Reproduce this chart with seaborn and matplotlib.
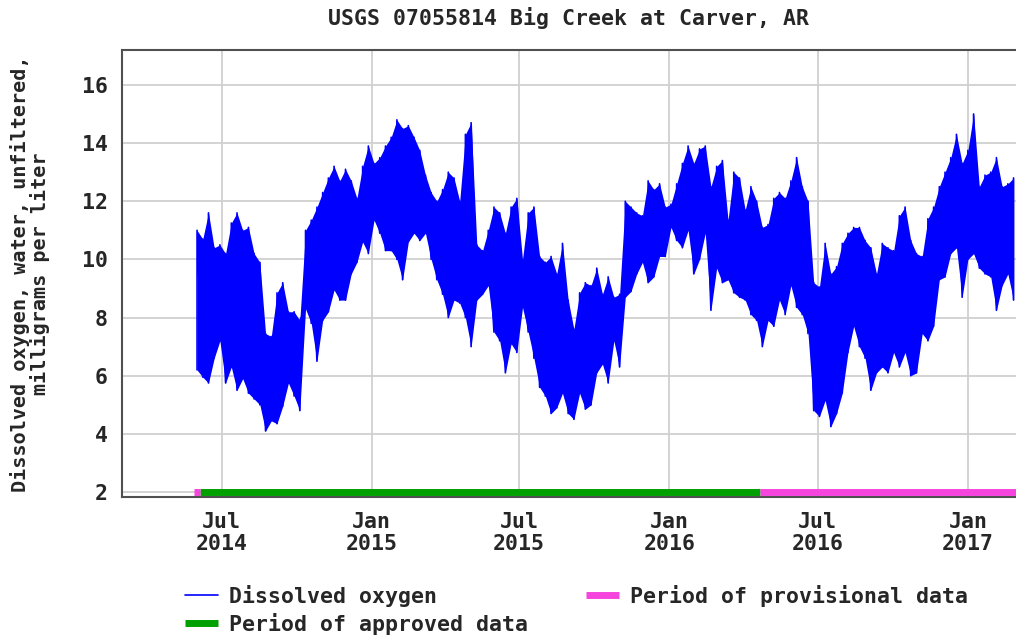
import numpy as np
import pandas as pd
import matplotlib
matplotlib.use("Agg")
import matplotlib.pyplot as plt
import seaborn as sns
from matplotlib.lines import Line2D

# ---------------- data ----------------
title = "USGS 07055814 Big Creek at Carver, AR"
ylabel = "Dissolved oxygen, water, unfiltered,\nmilligrams per liter"
start_date = "2014-06-01"  # weekly samples of the daily envelope

do_upper = [11.0, 10.7, 11.6, 10.4, 10.5, 10.2, 11.25, 11.6, 11.0, 11.1,
            10.2, 9.9, 7.45, 7.35, 8.85, 9.2, 8.2, 8.2, 7.9, 11.0,
            11.35, 11.8, 12.3, 12.8, 13.2, 12.7, 13.1, 12.7, 12.1, 13.2,
            13.9, 13.3, 13.5, 13.9, 14.2, 14.8, 14.5, 14.6, 14.2, 13.75,
            12.9, 12.3, 12.0, 12.4, 13.0, 12.8, 12.0, 14.3, 14.7, 10.5,
            10.3, 11.0, 11.8, 11.6, 10.9, 11.8, 12.1, 10.0, 11.6, 11.8,
            10.1, 9.9, 10.1, 9.5, 10.55, 8.6, 7.6, 8.85, 9.2, 9.1,
            9.7, 8.8, 9.4, 8.7, 8.8, 12.0, 11.8, 11.6, 11.5, 12.7,
            12.4, 12.6, 11.8, 11.9, 12.6, 13.3, 13.9, 13.3, 13.8, 13.9,
            12.5, 13.2, 13.4, 11.35, 13.0, 12.8, 11.7, 12.5, 12.0, 11.1,
            11.2, 12.1, 12.3, 12.1, 12.7, 13.5, 12.5, 12.0, 9.2, 9.05,
            10.55, 9.5, 9.75, 10.55, 10.9, 11.1, 11.1, 10.65, 10.4, 9.5,
            10.55, 10.4, 10.3, 11.5, 11.8, 10.65, 10.2, 10.1, 11.4, 11.8,
            12.5, 13.0, 13.5, 14.3, 13.3, 13.75, 15.0, 12.5, 12.9, 13.0,
            13.5, 12.5, 12.6, 12.8]

do_lower = [6.2, 5.95, 5.75, 6.6, 7.2, 5.75, 6.3, 5.5, 5.9, 5.4,
            5.2, 5.0, 4.1, 4.45, 4.35, 4.95, 5.75, 5.3, 4.8, 8.3,
            7.8, 6.5, 7.9, 8.2, 8.95, 8.6, 8.6, 9.5, 9.9, 10.6,
            10.2, 11.35, 10.9, 10.3, 10.3, 10.0, 9.3, 10.6, 10.9, 10.65,
            10.9, 10.0, 9.3, 8.8, 8.0, 8.6, 8.5, 8.0, 7.0, 8.6,
            8.8, 9.1, 7.5, 7.2, 6.1, 7.1, 6.8, 8.35, 7.5, 6.6,
            5.6, 5.3, 4.7, 4.9, 5.4, 4.7, 4.5, 5.4, 4.85, 5.0,
            6.1, 6.4, 5.75, 7.2, 6.3, 8.7, 8.9, 9.5, 9.9, 9.2,
            9.4, 10.1, 10.1, 11.1, 10.65, 10.4, 11.0, 9.5, 10.0, 10.9,
            8.25, 9.7, 9.2, 9.3, 8.85, 8.7, 8.6, 8.1, 7.9, 7.0,
            7.9, 7.7, 8.6, 8.1, 9.1, 8.35, 8.1, 7.45, 4.8, 4.6,
            5.15, 4.25, 4.7, 5.4, 6.8, 7.7, 7.0, 6.6, 5.5, 6.1,
            6.3, 6.1, 6.8, 6.3, 6.8, 6.0, 6.1, 7.45, 7.2, 7.7,
            9.3, 9.4, 10.2, 10.4, 8.7, 10.0, 10.2, 9.7, 9.5, 9.4,
            8.25, 9.1, 9.5, 8.6]

approved_periods = [("2014-06-05", "2016-04-21")]
provisional_periods = [("2014-05-28", "2014-06-05"), ("2016-04-21", "2017-03-10")]

xtick_dates = ["2014-07-01", "2015-01-01", "2015-07-01", "2016-01-01",
               "2016-07-01", "2017-01-01"]
xtick_labels = ["Jul\n2014", "Jan\n2015", "Jul\n2015", "Jan\n2016",
                "Jul\n2016", "Jan\n2017"]
yticks = [2, 4, 6, 8, 10, 12, 14, 16]
legend_labels = ["Dissolved oxygen", "Period of approved data",
                 "Period of provisional data"]

BLUE = "#0000ff"
GREEN = "#00a000"
PINK = "#f545dc"

# ---------------- figure ----------------
sns.set_style("white")
plt.rcParams["font.family"] = ["DejaVu Sans Mono", "DejaVu Sans"]
plt.rcParams["font.weight"] = "bold"
FS = 15.5

fig = plt.figure(figsize=(10.16, 6.35), dpi=100)
ax = fig.add_axes([122 / 1016, 1 - 497 / 635, 894 / 1016, 447 / 635])

dates = pd.date_range(start_date, periods=len(do_upper), freq="7D")
ax.fill_between(dates, do_lower, do_upper, color=BLUE, lw=0, zorder=2)
zig = pd.DataFrame({
    "date": np.repeat(dates, 2),
    "do": np.column_stack([do_lower, do_upper]).ravel(),
})
sns.lineplot(data=zig, x="date", y="do", sort=False, estimator=None,
             color=BLUE, lw=1.2, ax=ax, legend=False, zorder=3)

for a, b in approved_periods:
    ax.plot([pd.Timestamp(a), pd.Timestamp(b)], [2, 2], color=GREEN, lw=5,
            solid_capstyle="butt", zorder=4)
for a, b in provisional_periods:
    ax.plot([pd.Timestamp(a), pd.Timestamp(b)], [2, 2], color=PINK, lw=5,
            solid_capstyle="butt", zorder=4)

ax.set_xlim(pd.Timestamp("2014-03-01"), pd.Timestamp("2017-03-01"))
ax.set_ylim(1.83, 17.2)
ax.set_xticks(pd.to_datetime(xtick_dates))
ax.set_xticklabels(xtick_labels, fontsize=FS, linespacing=1.12,
                   fontweight="bold")
ax.set_yticks(yticks)
ax.set_yticklabels([str(v) for v in yticks], fontsize=FS, fontweight="bold")
ax.tick_params(axis="x", length=0, pad=11)
ax.tick_params(axis="y", length=0, pad=10)
ax.set_xlabel("")
ax.set_ylabel(ylabel, fontsize=14.5, linespacing=1.0, fontweight="bold")
ax.yaxis.set_label_coords(-0.08, 0.5)

ax.grid(True, color="#d0d0d0", lw=1.3)
ax.set_axisbelow(True)
for s in ["left", "top", "bottom"]:
    ax.spines[s].set_color("#505050")
    ax.spines[s].set_linewidth(1.5)
ax.spines["right"].set_visible(False)

fig.text(569 / 1016, 1 - 18 / 635, title, ha="center", va="center",
         fontsize=FS, fontweight="bold")

handles = [Line2D([], [], color=BLUE, lw=1.2),
           Line2D([], [], color=GREEN, lw=5, solid_capstyle="butt"),
           Line2D([], [], color=PINK, lw=5, solid_capstyle="butt")]
fig.legend(handles, legend_labels, ncol=2, loc="upper left",
           bbox_to_anchor=(185 / 1016, 1 - 585 / 635), frameon=False,
           borderpad=0, borderaxespad=0, handlelength=1.53,
           handletextpad=0.51, columnspacing=2.7, labelspacing=0.26,
           prop={"size": FS, "weight": "bold"})

fig.savefig("out.png", dpi=100)
